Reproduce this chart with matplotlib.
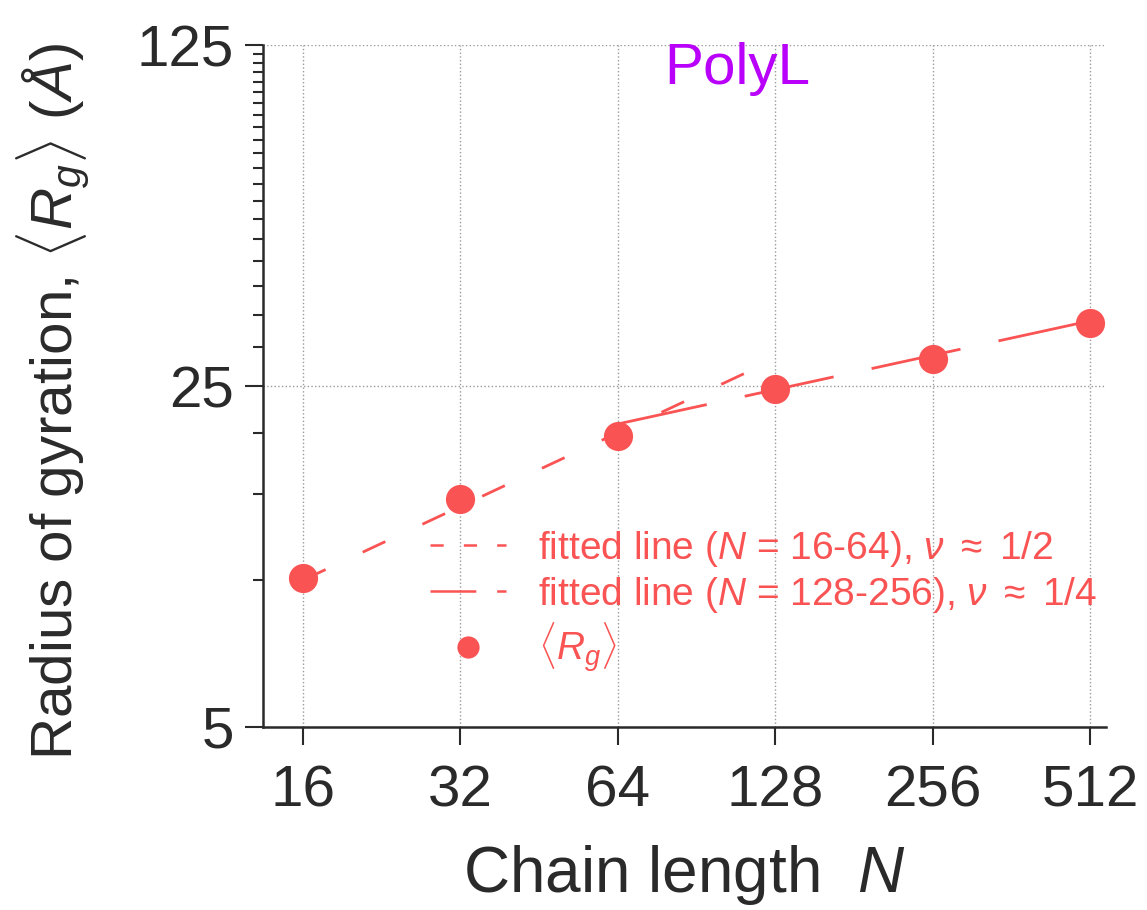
import numpy as np
import matplotlib
matplotlib.use("Agg")
import matplotlib.pyplot as plt
from matplotlib.ticker import FixedLocator, NullLocator, NullFormatter, FixedFormatter
from matplotlib.lines import Line2D

######################## data ########################
N = [16, 32, 64, 128, 256, 512]
Rg = [10.1, 14.7, 19.7, 24.6, 28.4, 33.6]

# fitted lines (end points)
fit1_N = [16, 128]
fit1_R = [10.0, 28.4]
fit2_N = [64, 512]
fit2_R = [20.9, 34.0]

xticks = [16, 32, 64, 128, 256, 512]
yticks = [5, 25, 125]
yminor = [10, 15, 20] + list(range(30, 125, 5))

######################## style ########################
plt.rcParams['font.family'] = ['Liberation Sans', 'DejaVu Sans']
plt.rcParams['mathtext.fontset'] = 'custom'
plt.rcParams['mathtext.rm'] = 'Liberation Sans'
plt.rcParams['mathtext.it'] = 'Liberation Sans:italic'
plt.rcParams['mathtext.bf'] = 'Liberation Sans:bold'
plt.rcParams['lines.scale_dashes'] = False

red = '#FA5353'
dark = '#2a2a2a'

fig = plt.figure(figsize=(11.47, 9.10), dpi=100)
ax = fig.add_axes([0.2293, 0.2011, 0.9643 - 0.2293, 0.9505 - 0.2011])

ax.plot(fit1_N, fit1_R, color=red, lw=2.0, dashes=(18, 29.5))
ax.plot(fit2_N, fit2_R, color=red, lw=2.0, dashes=(65.5, 28))
ax.plot(N, Rg, 'o', color=red, ms=21, mec='none', zorder=5)

ax.set_xscale('log', base=2)
ax.set_yscale('log', base=5)
ax.set_xlim(13.42, 549)
ax.set_ylim(5, 125)

ax.xaxis.set_major_locator(FixedLocator(xticks))
ax.xaxis.set_major_formatter(FixedFormatter([str(v) for v in xticks]))
ax.xaxis.set_minor_locator(NullLocator())
ax.yaxis.set_major_locator(FixedLocator(yticks))
ax.yaxis.set_major_formatter(FixedFormatter([str(v) for v in yticks]))
ax.yaxis.set_minor_locator(FixedLocator(yminor))
ax.yaxis.set_minor_formatter(NullFormatter())

ax.tick_params(which='major', direction='out', length=13, width=1.5,
               color=dark, labelsize=42, labelcolor=dark, pad=8)
ax.tick_params(axis='x', which='major', pad=14)
ax.tick_params(which='minor', direction='out', length=7, width=1.5, color=dark)

for s in ['top', 'right']:
    ax.spines[s].set_visible(False)
for s in ['left', 'bottom']:
    ax.spines[s].set_color(dark)
    ax.spines[s].set_linewidth(1.8)

ax.grid(True, which='major', ls=':', color='#9a9a9a', lw=1.0)

ax.set_xlabel(r"Chain length  $N$", fontsize=46, color=dark, labelpad=18)
ax.set_ylabel(r"Radius of gyration, $\langle R_g\rangle$ ($\mathit{Å}$)",
              fontsize=42, color=dark)
ax.yaxis.set_label_coords(-0.203, 0.4765)

ax.text(0.563, 0.965, "PolyL", transform=ax.transAxes, fontsize=42,
        color='#B800FA', ha='center', va='center')

# legend with proxy handles (legend dashes are drawn shorter)
h1 = Line2D([], [], color=red, lw=1.8, dashes=(9.5, 14.5))
h2 = Line2D([], [], color=red, lw=1.8, dashes=(33, 15))
h3 = Line2D([], [], ls='none', marker='o', color=red, ms=16, mec='none')
leg = ax.legend([h1, h2, h3],
                [r"fitted line ($N$ = 16-64), $\nu$ $\approx$ 1/2",
                 r"fitted line ($N$ = 128-256), $\nu$ $\approx$ 1/4",
                 r"$\langle R_g\rangle$"],
                loc='center left', bbox_to_anchor=(430 / 1147, 1 - 602 / 910),
                bbox_transform=fig.transFigure, frameon=False, fontsize=28,
                handlelength=1.95, handletextpad=0.82, borderpad=0,
                borderaxespad=0, labelspacing=0.15)
for t in leg.get_texts():
    t.set_color(red)

fig.savefig("out.png", dpi=100)
